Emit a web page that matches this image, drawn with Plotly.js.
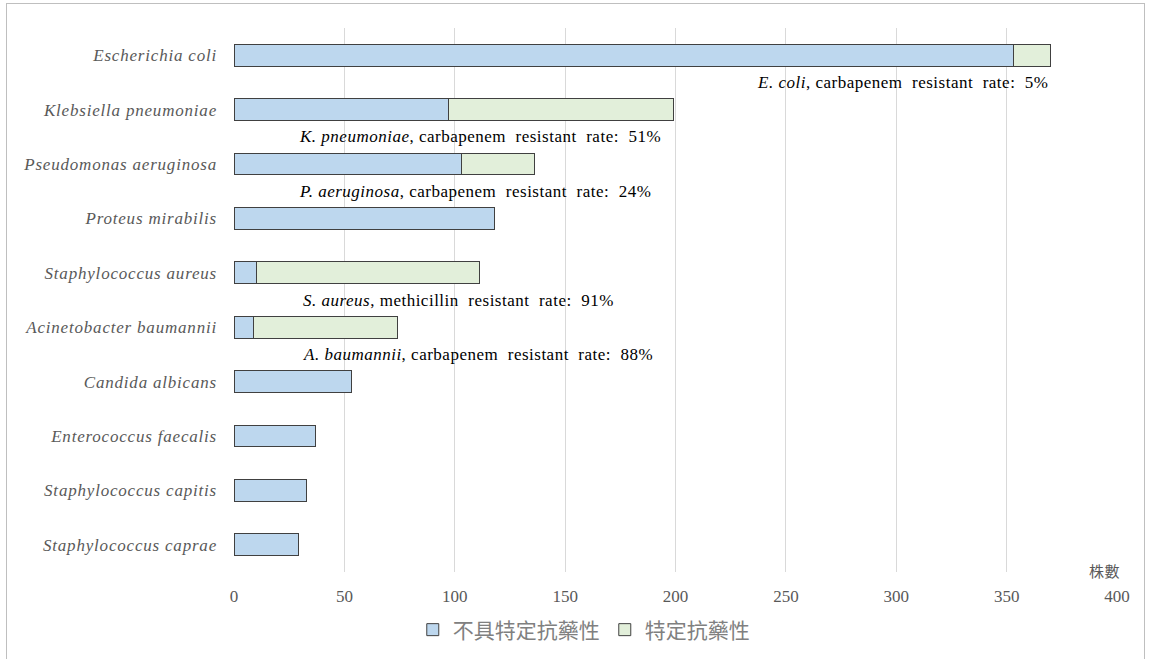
<!DOCTYPE html>
<html>
<head>
<meta charset="utf-8">
<script src="https://cdn.plot.ly/plotly-3.0.1.min.js"></script>
<style>
  html, body { margin: 0; padding: 0; background: #fff; }
  #frame { position: absolute; left: 6px; top: 3px; width: 1139px; height: 700px;
           border: 1px solid #bfbfbf; border-bottom: none; box-sizing: border-box; pointer-events: none; z-index: 5; }
  #chart { width: 1156px; height: 659px; }
  .ytick text { letter-spacing: 0.8px; }
  .annotation-text { letter-spacing: 0.5px; }
</style>
</head>
<body>
<div id="frame"></div>
<div id="chart"></div>
<script>
const species = [
  "Escherichia coli", "Klebsiella pneumoniae", "Pseudomonas aeruginosa", "Proteus mirabilis",
  "Staphylococcus aureus", "Acinetobacter baumannii", "Candida albicans",
  "Enterococcus faecalis", "Staphylococcus capitis", "Staphylococcus caprae"
];
const nonResistant = [353, 97, 103, 118, 10, 9, 53, 37, 33, 29];
const resistant    = [17, 102, 33, 0, 101, 65, 0, 0, 0, 0];
const seriesNames = ["不具特定抗藥性", "特定抗藥性"];
const xTicks = [0, 50, 100, 150, 200, 250, 300, 350, 400];
const noteSpecies = ["E. coli", "K. pneumoniae", "P. aeruginosa", "S. aureus", "A. baumannii"];
const noteDrug = ["carbapenem", "carbapenem", "carbapenem", "methicillin", "carbapenem"];
const noteRate = ["5%", "51%", "24%", "91%", "88%"];
const noteRow = [0, 1, 2, 4, 5];
const noteX = [370, 28.5, 28.5, 30.5, 30.5];
const noteAnchor = ["right", "left", "left", "left", "left"];
const axisUnit = "株數";

const serif = "Liberation Serif";
const cjk = "Noto Sans CJK TC";

const traces = [
  { type: "bar", orientation: "h", name: seriesNames[0], y: species, x: nonResistant,
    marker: { color: "#BDD7EE", line: { color: "#404040", width: 1 } }, width: 0.4 },
  { type: "bar", orientation: "h", name: seriesNames[1], y: species, x: resistant,
    marker: { color: "#E2EFDA", line: { color: "#404040", width: 1 } }, width: 0.4 }
];

const annotations = noteSpecies.map((s, i) => ({
  xref: "x", yref: "y", x: noteX[i], y: noteRow[i] + 0.5,
  xanchor: noteAnchor[i], yanchor: "middle", showarrow: false,
  text: "<i>" + s + "</i>, " + noteDrug[i] + "&nbsp; resistant&nbsp; rate:&nbsp; " + noteRate[i],
  font: { family: serif, size: 17, color: "#000" }
}));
annotations.push({
  xref: "paper", yref: "paper", x: 1.006, y: 0.003, xanchor: "right", yanchor: "middle",
  showarrow: false, text: axisUnit, font: { family: cjk, size: 15, color: "#595959" }
});

const layout = {
  width: 1156, height: 659,
  margin: { l: 234, r: 39, t: 28, b: 87, autoexpand: false },
  paper_bgcolor: "#fff", plot_bgcolor: "#fff",
  font: { family: serif, size: 16, color: "#595959" },
  barmode: "stack",
  showlegend: true,
  legend: { orientation: "h", xref: "container", yref: "container", x: 0.505, xanchor: "center",
            y: 0.044, yanchor: "middle",
            font: { family: cjk, size: 21, color: "#808080" }, itemwidth: 30, traceorder: "normal" },
  xaxis: { range: [0, 400], tickvals: xTicks, ticktext: xTicks.map(String),
           showgrid: true, gridcolor: "#d9d9d9", gridwidth: 1, zeroline: false,
           showline: false, ticks: "", ticklen: 0, ticklabelstandoff: 12,
           tickfont: { family: serif, size: 17, color: "#595959" }, fixedrange: true },
  yaxis: { type: "category", autorange: "reversed", showgrid: false, zeroline: false,
           showline: false, ticks: "", ticklabelstandoff: 16,
           tickfont: { family: serif, size: 17, color: "#595959", style: "italic" } },
  annotations: annotations
};

Plotly.newPlot("chart", traces, layout, { displayModeBar: false });
</script>
</body>
</html>
